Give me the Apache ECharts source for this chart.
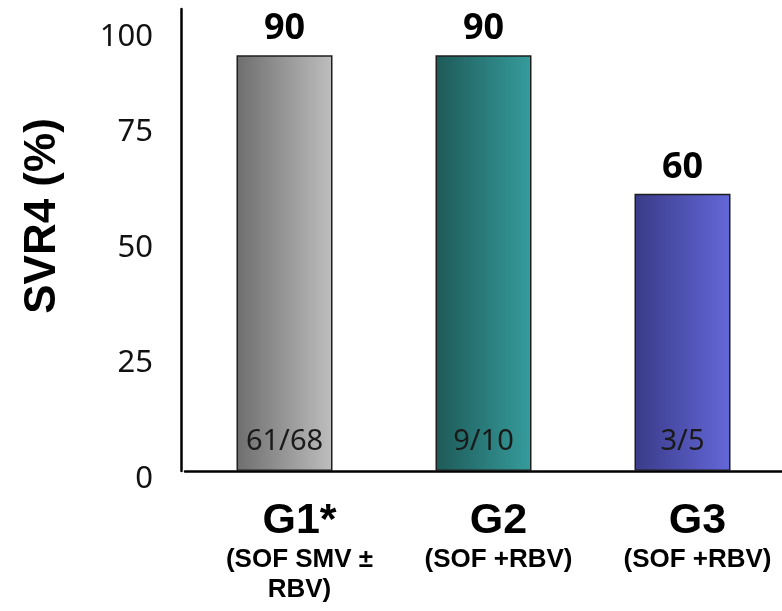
<!DOCTYPE html>
<html>
<head>
<meta charset="utf-8">
<title>SVR4 by genotype</title>
<script src="https://cdn.jsdelivr.net/npm/echarts@6/dist/echarts.min.js"></script>
<style>
  html, body { margin: 0; padding: 0; background: #ffffff; }
  #chart { width: 782px; height: 611px; }
</style>
</head>
<body>
<div id="chart"></div>
<script>
// Genotype groups and their regimens
const groups = ['G1*', 'G2', 'G3'];
const regimens = [['(SOF SMV \u00B1', 'RBV)'], ['(SOF +RBV)'], ['(SOF +RBV)']];
// SVR4 rate (%) and patient counts per group
const svr4 = [90, 90, 60];
const counts = ['61/68', '9/10', '3/5'];
// Value axis ticks
const yTicks = [0, 25, 50, 75, 100];

const barFills = [
  ['#6e6e6e', '#bebebe'],
  ['#1d5a58', '#369c9c'],
  ['#393b88', '#6467d8']
];

function fill(pair) {
  return new echarts.graphic.LinearGradient(0, 0, 1, 0, [
    { offset: 0, color: pair[0] },
    { offset: 1, color: pair[1] }
  ]);
}

const chart = echarts.init(document.getElementById('chart'), null, { renderer: 'canvas' });

const categoryLabels = groups.map((g, i) =>
  '{g|' + g + '}\n' + regimens[i].map(r => '{s|' + r + '}').join('\n')
);

chart.setOption({
  animation: false,
  grid: { left: 185, right: -9, top: 9, bottom: 140, containLabel: false },
  xAxis: {
    type: 'category',
    data: categoryLabels,
    axisLine: { show: true, lineStyle: { color: '#000', width: 2.5 } },
    axisTick: { show: false },
    axisLabel: {
      margin: 26,
      interval: 0,
      padding: [0, 0, 0, 30],
      rich: {
        g: { fontFamily: 'Liberation Sans', fontWeight: 'bold', fontSize: 43, lineHeight: 48, color: '#000' },
        s: { fontFamily: 'Liberation Sans', fontWeight: 'bold', fontSize: 26, lineHeight: 30, color: '#000' }
      }
    }
  },
  yAxis: {
    type: 'value',
    min: yTicks[0],
    max: yTicks[yTicks.length - 1],
    interval: 25,
    offset: 4,
    name: 'SVR4 (%)',
    nameLocation: 'middle',
    nameGap: 116,
    nameRotate: 90,
    nameTextStyle: {
      fontFamily: 'Liberation Sans', fontWeight: 'bold', fontSize: 44, color: '#000',
      padding: [0, 0, 0, 48]
    },
    axisLine: { show: true, lineStyle: { color: '#000', width: 2.5 } },
    axisTick: { show: false },
    splitLine: { show: false },
    axisLabel: {
      margin: 28,
      formatter: v => (v === yTicks[yTicks.length - 1] ? '{top|' + v + '}' : '{n|' + v + '}'),
      rich: {
        n: { fontFamily: 'Noto Sans', fontSize: 31, color: '#111', padding: [16, 0, 0, 0] },
        top: { fontFamily: 'Noto Sans', fontSize: 31, color: '#111', padding: [56, 0, 0, 0] }
      }
    }
  },
  series: [
    {
      type: 'bar',
      barWidth: 96,
      data: svr4.map((v, i) => ({
        value: v,
        itemStyle: { color: fill(barFills[i]), borderColor: '#1e1e1e', borderWidth: 1.5 }
      })),
      label: {
        show: true,
        position: 'top',
        distance: 8,
        fontFamily: 'Noto Sans',
        fontWeight: 'bold',
        fontSize: 36,
        color: '#000'
      }
    },
    {
      type: 'bar',
      barWidth: 96,
      barGap: '-100%',
      silent: true,
      data: svr4,
      itemStyle: { color: 'rgba(0,0,0,0)' },
      label: {
        show: true,
        position: 'insideBottom',
        distance: 15,
        formatter: p => counts[p.dataIndex],
        fontFamily: 'Noto Sans',
        fontSize: 29,
        color: '#1a1a1a'
      }
    }
  ]
});
</script>
</body>
</html>
